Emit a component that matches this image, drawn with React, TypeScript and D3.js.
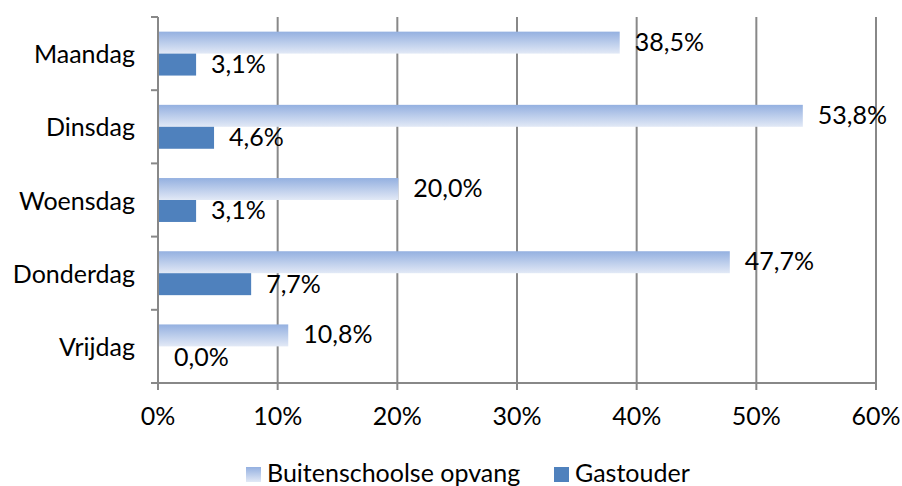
import React from 'react';
import * as d3 from 'd3';

const days = ['Maandag', 'Dinsdag', 'Woensdag', 'Donderdag', 'Vrijdag'];
const bso = [38.5, 53.8, 20.0, 47.7, 10.8];
const gastouder = [3.1, 4.6, 3.1, 7.7, 0.0];
const ticks = [0, 10, 20, 30, 40, 50, 60];
const seriesNames = ['Buitenschoolse opvang', 'Gastouder'];

const font = 'Lato, "Open Sans", sans-serif';
const fs = 25;

export default function App() {
    const width = 902;
    const height = 486;
    const margin = { top: 17, right: 26, bottom: 103, left: 158 };
    const innerWidth = width - margin.left - margin.right;
    const innerHeight = height - margin.top - margin.bottom;

    const x = d3.scaleLinear().domain([0, 60]).range([0, innerWidth]);
    const y = d3.scaleBand().domain(days).range([0, innerHeight]).paddingInner(0.4).paddingOuter(0.2);
    const sub = d3.scaleBand().domain(['bso', 'gast']).range([0, y.bandwidth()]);
    const fmt = (v: number) => v.toFixed(1).replace('.', ',') + '%';
    const bounds = d3.range(days.length + 1).map(i => (innerHeight / days.length) * i);

    return (
        <svg width={width} height={height} style={{ display: 'block', position: 'absolute', left: 0, top: 0 }}
            fontFamily={font}>
            <defs>
                <linearGradient id="bsoGrad" x1="0" y1="0" x2="0" y2="1">
                    <stop offset="0%" stopColor="#94b0e0" />
                    <stop offset="100%" stopColor="#e2e9f6" />
                </linearGradient>
            </defs>
            <g transform={`translate(${margin.left},${margin.top})`}>
                {ticks.map(t => (
                    <line key={'g' + t} x1={x(t)} x2={x(t)} y1={0} y2={innerHeight + (t === 0 ? 0 : 7)}
                        stroke="#888" strokeWidth={2} />
                ))}
                <line x1={0} x2={0} y1={0} y2={innerHeight + 7} stroke="#888" strokeWidth={2} />
                <line x1={0} x2={innerWidth} y1={innerHeight} y2={innerHeight} stroke="#888" strokeWidth={2} />
                {bounds.map((b, i) => (
                    <line key={'b' + i} x1={-7} x2={0} y1={b} y2={b} stroke="#888" strokeWidth={2} />
                ))}
                {days.map((d, i) => {
                    const y0 = y(d)!;
                    return (
                        <g key={d}>
                            <rect x={x(0) + 1} y={y0 + sub('bso')!} width={x(bso[i])} height={sub.bandwidth()}
                                fill="url(#bsoGrad)" />
                            <rect x={x(0) + 1} y={y0 + sub('gast')!} width={x(gastouder[i])} height={sub.bandwidth()}
                                fill="#4f81bd" />
                            <text x={x(bso[i]) + 16} y={y0 + sub('bso')! + sub.bandwidth() / 2 + 8} fontSize={fs}
                                fill="#000">{fmt(bso[i])}</text>
                            <text x={x(gastouder[i]) + 16} y={y0 + sub('gast')! + sub.bandwidth() / 2 + 8.5} fontSize={fs}
                                fill="#000">{fmt(gastouder[i])}</text>
                            <text x={-23} y={(bounds[i] + bounds[i + 1]) / 2 + 9.5} fontSize={fs} textAnchor="end"
                                fill="#000">{d}</text>
                        </g>
                    );
                })}
                {ticks.map(t => (
                    <text key={'t' + t} x={x(t)} y={innerHeight + 42} fontSize={fs} textAnchor="middle" fill="#000">
                        {t + '%'}
                    </text>
                ))}
            </g>
            <g transform="translate(246,467)">
                <rect x={0} y={0} width={15} height={15} fill="url(#bsoGrad)" />
                <text x={21} y={15} fontSize={fs} fill="#000">{seriesNames[0]}</text>
                <rect x={308} y={0} width={15} height={15} fill="#4f81bd" />
                <text x={329} y={15} fontSize={fs} fill="#000">{seriesNames[1]}</text>
            </g>
        </svg>
    );
}
